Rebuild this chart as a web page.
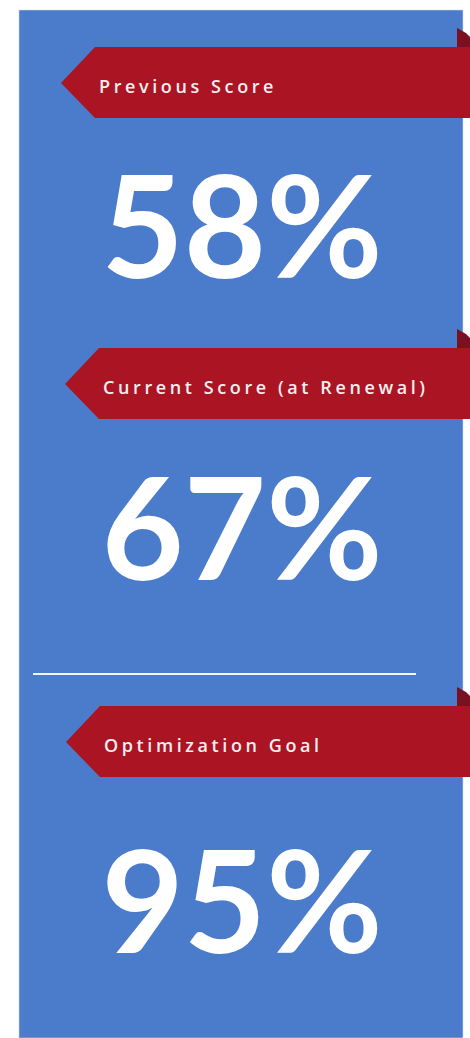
<!DOCTYPE html>
<html lang="en">

<head>
  <meta charset="UTF-8">
  <title>Score Ribbons</title>
  <script src="https://cdn.jsdelivr.net/npm/d3@7"></script>
  <style>
    html,
    body {
      margin: 0;
      padding: 0;
      background: #ffffff;
    }

    .label {
      fill: #f6eef0;
      font-family: "Open Sans", sans-serif;
      font-weight: 600;
      font-size: 18px;
      letter-spacing: 3.6px;
    }

    .value {
      fill: #ffffff;
      font-family: Lato, sans-serif;
      font-weight: 700;
      font-size: 142px;
      text-anchor: middle;
    }
  </style>
</head>

<body>
  <div class="chart"></div>

  <script type="text/javascript">
    // data
    const labels = ['Previous Score', 'Current Score (at Renewal)', 'Optimization Goal'];
    const values = [58, 67, 95];

    const width = 470,
      height = 1038;

    // layout of each block (ribbon centre y, tip x, value baseline y)
    const ribbonY = [83, 384, 742];
    const tipX = [61, 65, 66];
    const valueY = [278, 580, 953];

    const svg = d3
      .select('.chart')
      .append('svg')
      .attr('width', width)
      .attr('height', height);

    // blue panel
    svg.append('rect')
      .attr('x', 19)
      .attr('y', 10)
      .attr('width', 444)
      .attr('height', height - 10)
      .attr('fill', '#4a7ccb')
      .attr('stroke', '#c9d6ee')
      .attr('stroke-width', 0.6);

    // divider before the goal
    svg.append('line')
      .attr('x1', 33)
      .attr('x2', 416)
      .attr('y1', 674)
      .attr('y2', 674)
      .attr('stroke', '#f2f5fb')
      .attr('stroke-width', 2.2);

    const blocks = svg
      .selectAll('.block')
      .data(labels.map(function(d, i) {
        return { label: d, value: values[i], i: i };
      }))
      .enter()
      .append('g')
      .attr('class', 'block');

    // fold at the ribbon's right end
    blocks.append('path')
      .attr('fill', '#7a1020')
      .attr('d', function(d) {
        const y = ribbonY[d.i];
        return 'M457,' + (y - 55) + 'L466,' + (y - 50) + 'L470,' + (y - 46) +
          'L470,' + (y - 35) + 'L457,' + (y - 35) + 'Z';
      });

    // ribbon
    blocks.append('path')
      .attr('fill', '#ab1423')
      .attr('d', function(d) {
        const y = ribbonY[d.i],
          x = tipX[d.i];
        return 'M' + x + ',' + y + 'L' + (x + 34) + ',' + (y - 36) + 'L' + width + ',' + (y - 36) +
          'L' + width + ',' + (y + 35) + 'L' + (x + 34) + ',' + (y + 35) + 'Z';
      });

    blocks.append('text')
      .attr('class', 'label')
      .attr('x', function(d) {
        return tipX[d.i] + 38;
      })
      .attr('y', function(d) {
        return ribbonY[d.i] + 10;
      })
      .text(function(d) {
        return d.label;
      });

    blocks.append('text')
      .attr('class', 'value')
      .attr('x', 242)
      .attr('y', function(d) {
        return valueY[d.i];
      })
      .text(function(d) {
        return d.value + '%';
      });
  </script>
</body></html>
